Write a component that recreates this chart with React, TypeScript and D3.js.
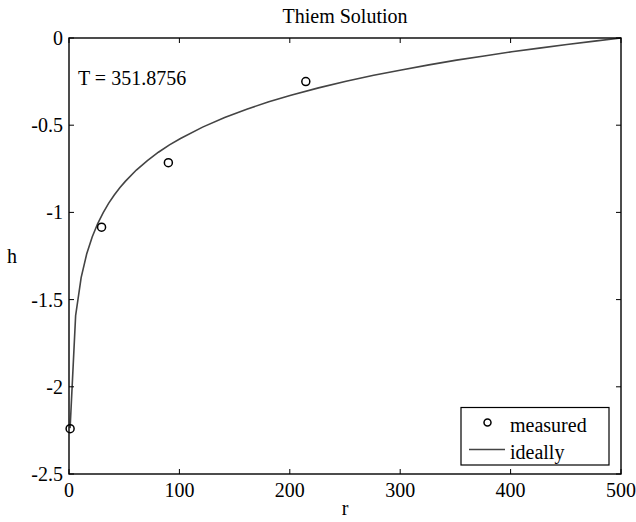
import React from 'react';
import * as d3 from 'd3';

// ideal Thiem curve
const idealR = [1, 6, 11, 16, 21, 26, 31, 36, 41, 46, 51, 61, 71, 81, 91, 101, 121, 141, 161, 181, 201, 226, 251, 276, 301, 326, 351, 376, 401, 426, 451, 476, 500];
const idealH = [-2.237, -1.592, -1.374, -1.239, -1.141, -1.064, -1.001, -0.947, -0.9, -0.859, -0.822, -0.757, -0.703, -0.655, -0.613, -0.576, -0.511, -0.456, -0.408, -0.366, -0.328, -0.286, -0.248, -0.214, -0.183, -0.154, -0.127, -0.103, -0.079, -0.058, -0.037, -0.018, 0];

// measured points
const measuredR = [1, 29.5, 90, 214.5];
const measuredH = [-2.24, -1.085, -0.715, -0.25];

const xTicks = [0, 100, 200, 300, 400, 500];
const yTicks = [0, -0.5, -1, -1.5, -2, -2.5];

const W = 636;
const H = 522;
const M = { left: 69, right: 621, top: 38, bottom: 474 };
const FONT = '"Liberation Serif", "Times New Roman", serif';
const FS = 20;

const App: React.FC = () => {
  const x = d3.scaleLinear().domain([0, 500]).range([M.left, M.right]);
  const y = d3.scaleLinear().domain([-2.5, 0]).range([M.bottom, M.top]);

  const line = d3.line<number>()
    .x((_, i) => x(idealR[i]))
    .y(d => y(d));

  const tickLen = 5;

  return (
    <svg width={W} height={H} style={{ position: 'absolute', left: 0, top: 0, background: '#fff' }}
      fontFamily={FONT}>
      <rect width={W} height={H} fill="#fff" />

      {/* ideal curve */}
      <path d={line(idealH) || undefined} fill="none" stroke="#444" strokeWidth={1.6} />

      {/* measured */}
      {measuredR.map((r, i) => (
        <circle key={i} cx={x(r)} cy={y(measuredH[i])} r={4} fill="none" stroke="#000" strokeWidth={1.5} />
      ))}

      {/* box */}
      <rect x={M.left} y={M.top} width={M.right - M.left} height={M.bottom - M.top}
        fill="none" stroke="#000" strokeWidth={1.4} />

      {/* x ticks */}
      {xTicks.map(t => (
        <g key={t}>
          <line x1={x(t)} x2={x(t)} y1={M.bottom} y2={M.bottom - tickLen} stroke="#000" strokeWidth={1} />
          <line x1={x(t)} x2={x(t)} y1={M.top} y2={M.top + tickLen} stroke="#000" strokeWidth={1} />
          <text x={x(t)} y={M.bottom + 23} textAnchor="middle" fontSize={FS}>{t}</text>
        </g>
      ))}

      {/* y ticks */}
      {yTicks.map(t => (
        <g key={t}>
          <line x1={M.left} x2={M.left + tickLen} y1={y(t)} y2={y(t)} stroke="#000" strokeWidth={1} />
          <line x1={M.right} x2={M.right - tickLen} y1={y(t)} y2={y(t)} stroke="#000" strokeWidth={1} />
          <text x={M.left - 6} y={y(t) + 7} textAnchor="end" fontSize={FS}>{t}</text>
        </g>
      ))}

      {/* labels */}
      <text x={(M.left + M.right) / 2} y={23} textAnchor="middle" fontSize={FS}>Thiem Solution</text>
      <text x={(M.left + M.right) / 2} y={515} textAnchor="middle" fontSize={FS}>r</text>
      <text x={7} y={263} fontSize={FS}>h</text>
      <text x={78} y={85} fontSize={FS}>T = 351.8756</text>

      {/* legend */}
      <g>
        <rect x={461} y={407.5} width={148} height={57.5} fill="#fff" stroke="#000" strokeWidth={1.2} />
        <circle cx={487.5} cy={422.5} r={3.5} fill="none" stroke="#000" strokeWidth={1.5} />
        <text x={510} y={431.5} fontSize={FS}>measured</text>
        <line x1={469} x2={505} y1={449.5} y2={449.5} stroke="#444" strokeWidth={1.6} />
        <text x={510} y={459} fontSize={FS}>ideally</text>
      </g>
    </svg>
  );
};

export default App;
